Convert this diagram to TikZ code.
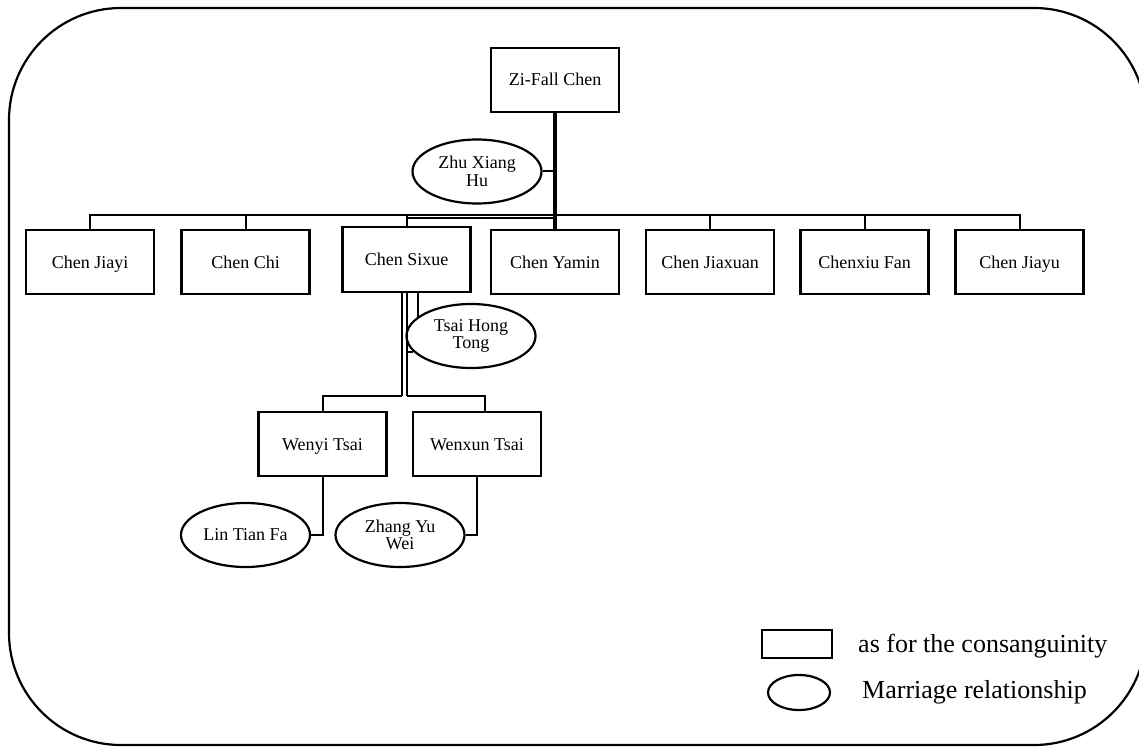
\documentclass[tikz,border=0pt]{standalone}
\usepackage{fontspec}
\setmainfont{Liberation Serif}
\usetikzlibrary{shapes.geometric,calc}
\begin{document}
\begin{tikzpicture}[x=1pt,y=-1pt,
  person/.style={draw,line width=2.2pt,rectangle,minimum width=128pt,minimum height=64pt,inner sep=0pt,text height=14pt,text depth=2pt,font=\fontsize{18}{17}\selectfont},
  spouse/.style={draw,line width=2.2pt,ellipse,minimum width=129pt,minimum height=64pt,inner sep=0pt,align=center,font=\fontsize{18}{17.5}\selectfont},
  link/.style={line width=2pt},
  trunk/.style={line width=3.6pt},
  twin/.style={line width=2.7pt},
  legendtext/.style={font=\fontsize{26}{30}\selectfont,inner sep=0pt}]
\useasboundingbox (0,0) rectangle (1139,746);
\draw[line width=2.2pt,rounded corners=112pt] (9,8) rectangle (1146,745);

\node[person] (zf) at (555,80) {Zi-Fall Chen};
\node[spouse] (zhu) at (477,171.5) {Zhu Xiang\\Hu};

\node[person] (jiayi) at (90,262) {Chen Jiayi};
\node[person] (chi) at (245.5,262) {Chen Chi};
\node[person,minimum height=65pt] (sixue) at (406.5,259.5) {Chen Sixue};
\node[person] (yamin) at (555,262) {Chen Yamin};
\node[person] (jiaxuan) at (710,262) {Chen Jiaxuan};
\node[person] (chenxiu) at (864.5,262) {Chenxiu Fan};
\node[person] (jiayu) at (1019.5,262) {Chen Jiayu};

\node[spouse] (tsai) at (471,336) {Tsai Hong\\Tong};
\node[person] (wenyi) at (322.5,444) {Wenyi Tsai};
\node[person] (wenxun) at (477,444) {Wenxun Tsai};
\node[spouse] (lin) at (245.5,535) {Lin Tian Fa};
\node[spouse] (zhang) at (400,535) {Zhang Yu\\Wei};

% legend
\node[draw,line width=2.2pt,minimum width=70pt,minimum height=28pt,inner sep=0pt] (legbox) at (797,644) {};
\node[legendtext,anchor=base west] (legboxtext) at (858,652) {as for the consanguinity};
\node[draw,line width=2.2pt,ellipse,minimum width=62pt,minimum height=35pt,inner sep=0pt] (legell) at (799,692.5) {};
\node[legendtext,anchor=base west] (legelltext) at (862,698) {Marriage relationship};

% connectors
\coordinate (bus) at (0,214.5);
\coordinate (bus2) at (0,217.5);
\draw[trunk] (zf.south) -- (yamin.north);
\draw[link] (jiayi.north) -- (jiayi.north |- bus) -- (jiayu.north |- bus) -- (jiayu.north);
\foreach \n in {chi,sixue,jiaxuan,chenxiu} \draw[link] (\n.north) -- (\n.north |- bus);
\draw[link] (sixue.north |- bus2) -- (yamin.north |- bus2);
\draw[link] (zhu.east) -- (zhu.east -| zf.south);

\coordinate (sl) at (402,396);
\coordinate (sr) at (407,396);
\coordinate (wxdrop) at (485,396);
\draw[twin] (sixue.south -| sl) -- (sl);
\draw[twin] (sixue.south -| sr) -- (sr);
\draw[link] (sl) -| (wenyi.north);
\draw[link] (sr) -- (wxdrop) -- (wxdrop |- wenxun.north);
\draw[link] (tsai.160) -- (tsai.160 |- sixue.south);
\draw[link] (tsai.195) -- (tsai.195 -| sr);

\draw[link] (wenyi.south) |- (lin.east);
\draw[link] (wenxun.south) |- (zhang.east);
\end{tikzpicture}
\end{document}
